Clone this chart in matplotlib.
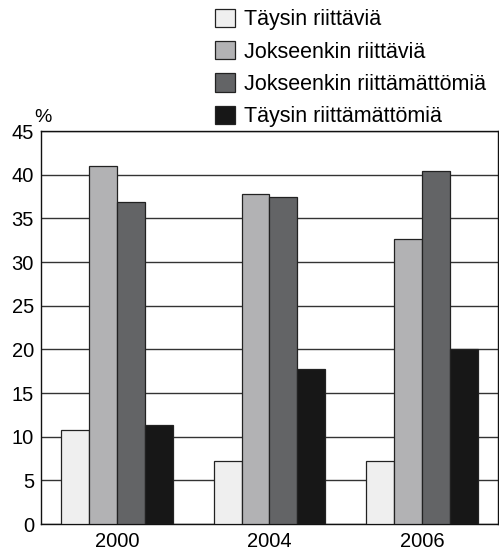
import numpy as np
import matplotlib.pyplot as plt

plt.rcParams['font.family'] = ['Liberation Sans', 'DejaVu Sans']

# data
years = ['2000', '2004', '2006']
series = ['Täysin riittäviä', 'Jokseenkin riittäviä',
          'Jokseenkin riittämättömiä', 'Täysin riittämättömiä']
taysin_riittavia = [10.8, 7.2, 7.2]
jokseenkin_riittavia = [41.0, 37.8, 32.6]
jokseenkin_riittamattomia = [36.9, 37.5, 40.4]
taysin_riittamattomia = [11.3, 17.7, 20.0]
colors = ['#efefef', '#b2b2b4', '#636466', '#171717']

values = [taysin_riittavia, jokseenkin_riittavia,
          jokseenkin_riittamattomia, taysin_riittamattomia]

fig = plt.figure(figsize=(4.99, 5.53), dpi=100)
ax = fig.add_axes([0.082, 0.0524, 0.916, 0.7106])

x = np.arange(len(years))
w = 0.183
for i, (vals, c, lab) in enumerate(zip(values, colors, series)):
    ax.bar(x + (i - 1.5) * w, vals, w, color=c, edgecolor='#222222',
           linewidth=0.9, label=lab, zorder=3)

ax.set_xlim(-0.5, 2.5)
ax.set_ylim(0, 45)
ax.set_yticks(range(0, 50, 5))
ax.set_xticks(x)
ax.set_xticklabels(years)
ax.tick_params(axis='both', length=0, labelsize=14.5)
ax.tick_params(axis='y', pad=5)
ax.tick_params(axis='x', pad=6)
ax.grid(axis='y', color='#333333', linewidth=1.0, zorder=0)
for s in ax.spines.values():
    s.set_color('#111111')
    s.set_linewidth(1.0)

ax.text(0.004, 1.012, '%', transform=ax.transAxes, fontsize=14,
        ha='center', va='bottom')

handles, labels = ax.get_legend_handles_labels()
fig.legend(handles, labels, loc='upper left', bbox_to_anchor=(0.431, 0.984),
           frameon=False, fontsize=15.5, handlelength=0.93, handleheight=0.93,
           handletextpad=0.42, labelspacing=0.5, borderaxespad=0,
           borderpad=0)

fig.savefig('out.png', dpi=100)
